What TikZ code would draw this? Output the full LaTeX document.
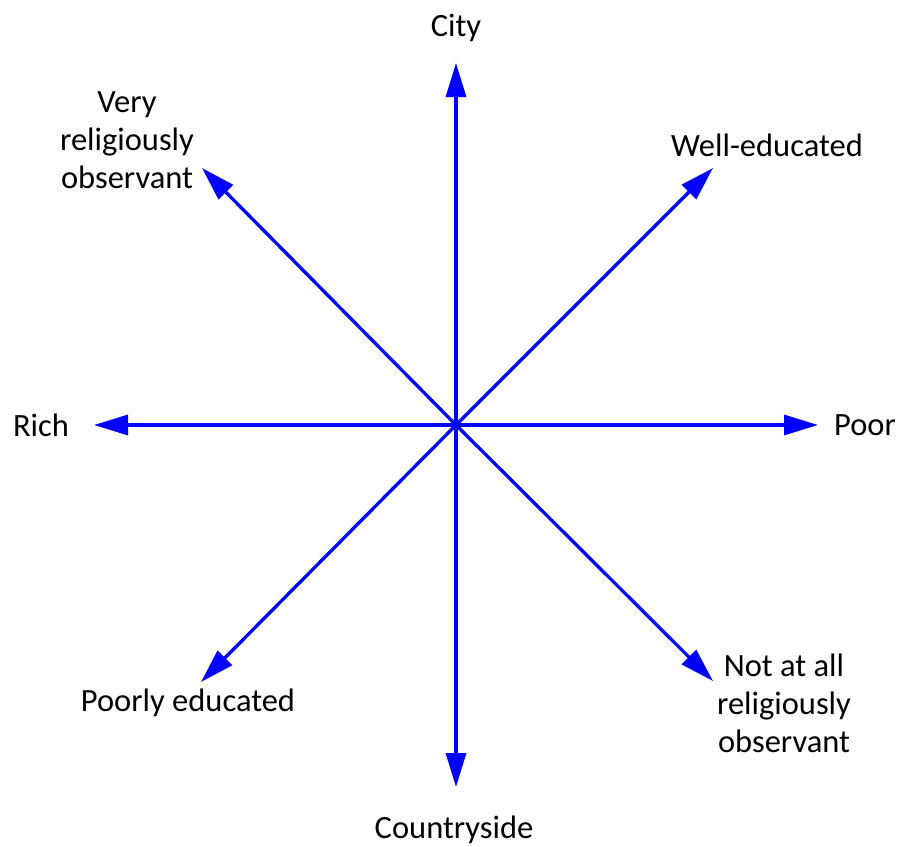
\documentclass[tikz,border=0pt]{standalone}
\usepackage{fontspec}
\setmainfont{Carlito}
\usetikzlibrary{arrows.meta}
\begin{document}
\begin{tikzpicture}[x=1pt,y=-1pt,
  axis/.style={draw={rgb,255:red,0;green,0;blue,255}, line width=3.3pt,
    -{Triangle[length=34pt,width=20pt]}},
  lbl/.style={font=\fontsize{32.5}{38}\selectfont, align=center, inner sep=0pt, text=black}]
\useasboundingbox (0,0) rectangle (899,846);
\coordinate (c) at (456,425);
\coordinate (n) at (456,63);
\coordinate (s) at (456,787);
\coordinate (w) at (94,425);
\coordinate (e) at (818,425);
\coordinate (ne) at (713,168);
\coordinate (nw) at (202,168);
\coordinate (sw) at (201,682);
\coordinate (se) at (713,681);
\foreach \t in {n,s,w,e,ne,nw,sw,se} \draw[axis] (c) -- (\t);
\node[lbl] (city) at (456,28) {City};
\node[lbl] (very) at (127,140) {Very\\religiously\\observant};
\node[lbl] (well) at (767,145) {Well-educated};
\node[lbl] (rich) at (41,425) {Rich};
\node[lbl] (poor) at (865,425) {Poor};
\node[lbl] (pe) at (188,703) {Poorly educated};
\node[lbl] (nat) at (784,703) {Not at all\\religiously\\observant};
\node[lbl] (cs) at (454,830) {Countryside};
\end{tikzpicture}
\end{document}
